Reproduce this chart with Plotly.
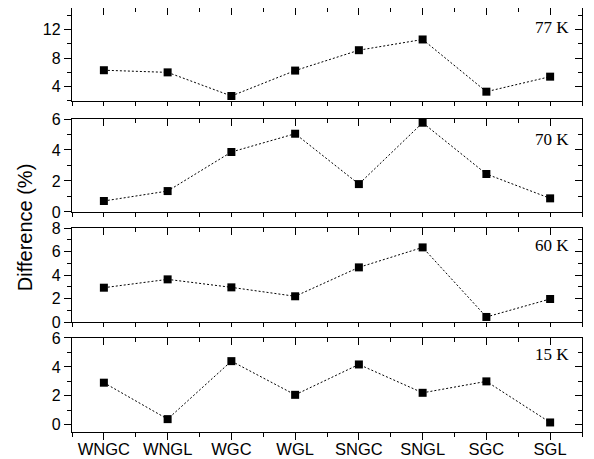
import plotly.graph_objects as go

categories = ["WNGC", "WNGL", "WGC", "WGL", "SNGC", "SNGL", "SGC", "SGL"]
diff_77K = [6.3, 6.0, 2.7, 6.25, 9.1, 10.6, 3.3, 5.4]
diff_70K = [0.71, 1.35, 3.87, 5.05, 1.8, 5.76, 2.45, 0.88]
diff_60K = [2.92, 3.63, 2.95, 2.19, 4.65, 6.35, 0.43, 1.96]
diff_15K = [2.91, 0.39, 4.4, 2.07, 4.17, 2.21, 3.0, 0.16]
panel_labels = ["77 K", "70 K", "60 K", "15 K"]
series = [diff_77K, diff_70K, diff_60K, diff_15K]

y_ranges = [[2, 15], [0, 6], [0, 8], [-0.5, 6]]
y_dticks = [4, 2, 2, 2]
y_minor = [2, 1, 1, 1]
label_y = [12.3, 4.7, 6.5, 4.85]
domains = [[0.7807, 1.0], [0.5189, 0.7382], [0.2594, 0.4811], [0.0, 0.2217]]

xpos = list(range(len(categories)))

fig = go.Figure()
tickfont = dict(family="Liberation Sans, Arial", size=16, color="black")
xtickfont = dict(family="Liberation Sans, Arial", size=16.5, color="black")
layout = {}
for i, (vals, lab) in enumerate(zip(series, panel_labels)):
    n = i + 1
    xa = "x" if n == 1 else f"x{n}"
    ya = "y" if n == 1 else f"y{n}"
    fig.add_trace(go.Scatter(
        x=xpos, y=vals, xaxis=xa, yaxis=ya, mode="lines+markers",
        line=dict(color="black", width=1, dash="2px,2px"),
        marker=dict(symbol="square", size=8, color="black"),
        showlegend=False, cliponaxis=False,
    ))
    xkey = "xaxis" if n == 1 else f"xaxis{n}"
    ykey = "yaxis" if n == 1 else f"yaxis{n}"
    layout[xkey] = dict(
        domain=[0, 1], anchor=ya, range=[-0.5, 7.5], automargin=False,
        tickvals=xpos, ticktext=categories if n == 4 else [""] * len(categories),
        showticklabels=(n == 4), ticklabelstandoff=-5,
        ticks="outside", ticklen=7, tickwidth=1.2, tickcolor="black",
        minor=dict(ticks="outside", dtick=0.5, tick0=0, ticklen=4, tickwidth=1.2, tickcolor="black"),
        showline=True, mirror=True, linecolor="black", linewidth=1.4,
        showgrid=False, zeroline=False, tickfont=xtickfont,
    )
    layout[ykey] = dict(
        domain=domains[i], anchor=xa, range=y_ranges[i], automargin=False,
        tick0=0, dtick=y_dticks[i],
        ticks="outside", ticklen=7, tickwidth=1.2, tickcolor="black",
        minor=dict(ticks="outside", dtick=y_minor[i], tick0=0, ticklen=4, tickwidth=1.2, tickcolor="black"),
        showline=True, mirror=True, linecolor="black", linewidth=1.4,
        showgrid=False, zeroline=False, tickfont=tickfont,
    )
    ox = 4 + n
    layout[f"xaxis{ox}"] = dict(
        overlaying=xa, side="top", anchor=ya, range=[-0.5, 7.5], automargin=False,
        tickvals=xpos, showticklabels=False,
        ticks="inside", ticklen=7, tickwidth=1.2, tickcolor="black",
        minor=dict(ticks="inside", dtick=0.5, tick0=0, ticklen=4, tickwidth=1.2, tickcolor="black"),
        showline=False, showgrid=False, zeroline=False,
    )
    layout[f"yaxis{ox}"] = dict(
        overlaying=ya, side="right", anchor=xa, range=y_ranges[i], automargin=False,
        tick0=0, dtick=y_dticks[i], showticklabels=False,
        ticks="inside", ticklen=7, tickwidth=1.2, tickcolor="black",
        minor=dict(ticks="inside", dtick=y_minor[i], tick0=0, ticklen=4, tickwidth=1.2, tickcolor="black"),
        showline=False, showgrid=False, zeroline=False,
    )
    fig.add_trace(go.Scatter(x=[None], y=[None], xaxis=f"x{ox}", yaxis=ya, showlegend=False, hoverinfo="skip"))
    fig.add_trace(go.Scatter(x=[None], y=[None], xaxis=xa, yaxis=f"y{ox}", showlegend=False, hoverinfo="skip"))
    fig.add_annotation(
        x=7.32, y=label_y[i], xref=xa, yref=ya, text=lab, showarrow=False,
        xanchor="right", yanchor="middle",
        font=dict(family="Liberation Serif, Times New Roman", size=17, color="black"),
    )

fig.add_annotation(
    x=-0.092, y=0.481, xref="paper", yref="paper", text="Difference (%)",
    textangle=-90, showarrow=False, xanchor="center", yanchor="middle",
    font=dict(family="Liberation Sans, Arial", size=20, color="black"),
)

fig.update_layout(
    width=586, height=451,
    margin=dict(l=64, r=12, t=0, b=27, autoexpand=False),
    paper_bgcolor="white", plot_bgcolor="white",
    **layout,
)

fig.write_html("out.html")
